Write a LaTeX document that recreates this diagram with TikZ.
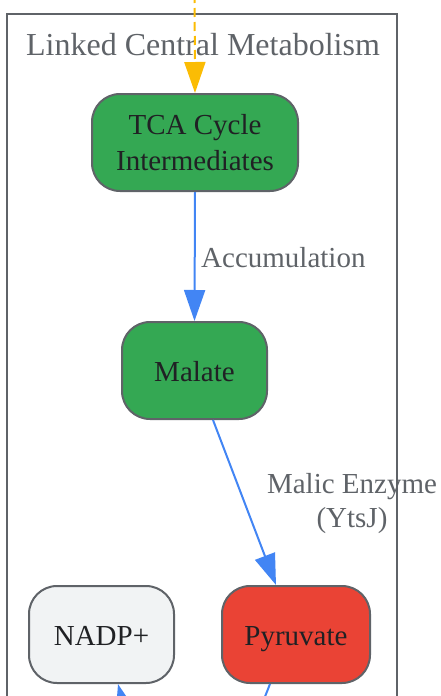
\documentclass[tikz,border=0pt]{standalone}
\usepackage{fontspec}
\setmainfont{Liberation Serif}
\usetikzlibrary{arrows.meta}
\definecolor{gborder}{HTML}{5F6368}
\definecolor{ggreen}{HTML}{34A853}
\definecolor{gred}{HTML}{EA4335}
\definecolor{ggray}{HTML}{F1F3F4}
\definecolor{gblue}{HTML}{4285F4}
\definecolor{gyellow}{HTML}{FBBC04}
\definecolor{gtext}{HTML}{202124}
\tikzset{
  nodebox/.style={draw=gborder, line width=2pt, rounded corners=28pt,
    minimum height=97pt, text=gtext, align=center, inner sep=0pt,
    font=\fontsize{29}{36}\selectfont},
  oneline/.style={text height=22pt, text depth=0pt},
  edgelbl/.style={text=gborder, align=center, inner sep=0pt,
    font=\fontsize{29}{34}\selectfont},
  bluearrow/.style={draw=gblue, line width=2pt, -{Triangle[length=31pt,width=21pt]}},
  yellowarrow/.style={draw=gyellow, line width=2pt, dash pattern=on 9pt off 5pt,
    -{Triangle[length=31pt,width=21pt]}},
  clusterbox/.style={draw=gborder, line width=2pt},
}
\begin{document}
\begin{tikzpicture}[x=1pt,y=-1pt]
\useasboundingbox (0,0) rectangle (441,696);
\clip (0,0) rectangle (441,696);
\draw[clusterbox] (7,14) rectangle (397,760);
\node[text=gborder, inner sep=0pt, font=\fontsize{32}{38}\selectfont, anchor=base] (title) at (203,55) {Linked Central Metabolism};
\node[nodebox, fill=ggreen, minimum width=206pt] (tca) at (195,142.5) {TCA Cycle\\Intermediates};
\node[nodebox, oneline, fill=ggreen, minimum width=145pt] (malate) at (194.5,370.5) {Malate};
\node[nodebox, oneline, fill=gred, minimum width=148pt] (pyr) at (296,634.5) {Pyruvate};
\node[nodebox, oneline, fill=ggray, minimum width=145pt] (nadp) at (101.5,634.5) {NADP+};
\coordinate (topin) at (194.5,-20);
\coordinate (nadpsrc) at (138,760);
\coordinate (pyrout) at (240,760);
\draw[yellowarrow] (topin) -- (tca.north);
\draw[bluearrow] (tca.south) -- (malate.north);
\draw[bluearrow] (malate.south -| 213,0) -- (pyr.north -| 276,0);
\draw[bluearrow] (nadpsrc) -- (nadp.south -| 118,0);
\draw[draw=gblue, line width=2pt] (pyr.south -| 270,0) -- (pyrout);
\node[edgelbl, anchor=west] (lbl1) at (201,258) {Accumulation};
\node[edgelbl] (lbl2) at (352,504) {Malic Enzyme\\(YtsJ)};
\end{tikzpicture}
\end{document}
